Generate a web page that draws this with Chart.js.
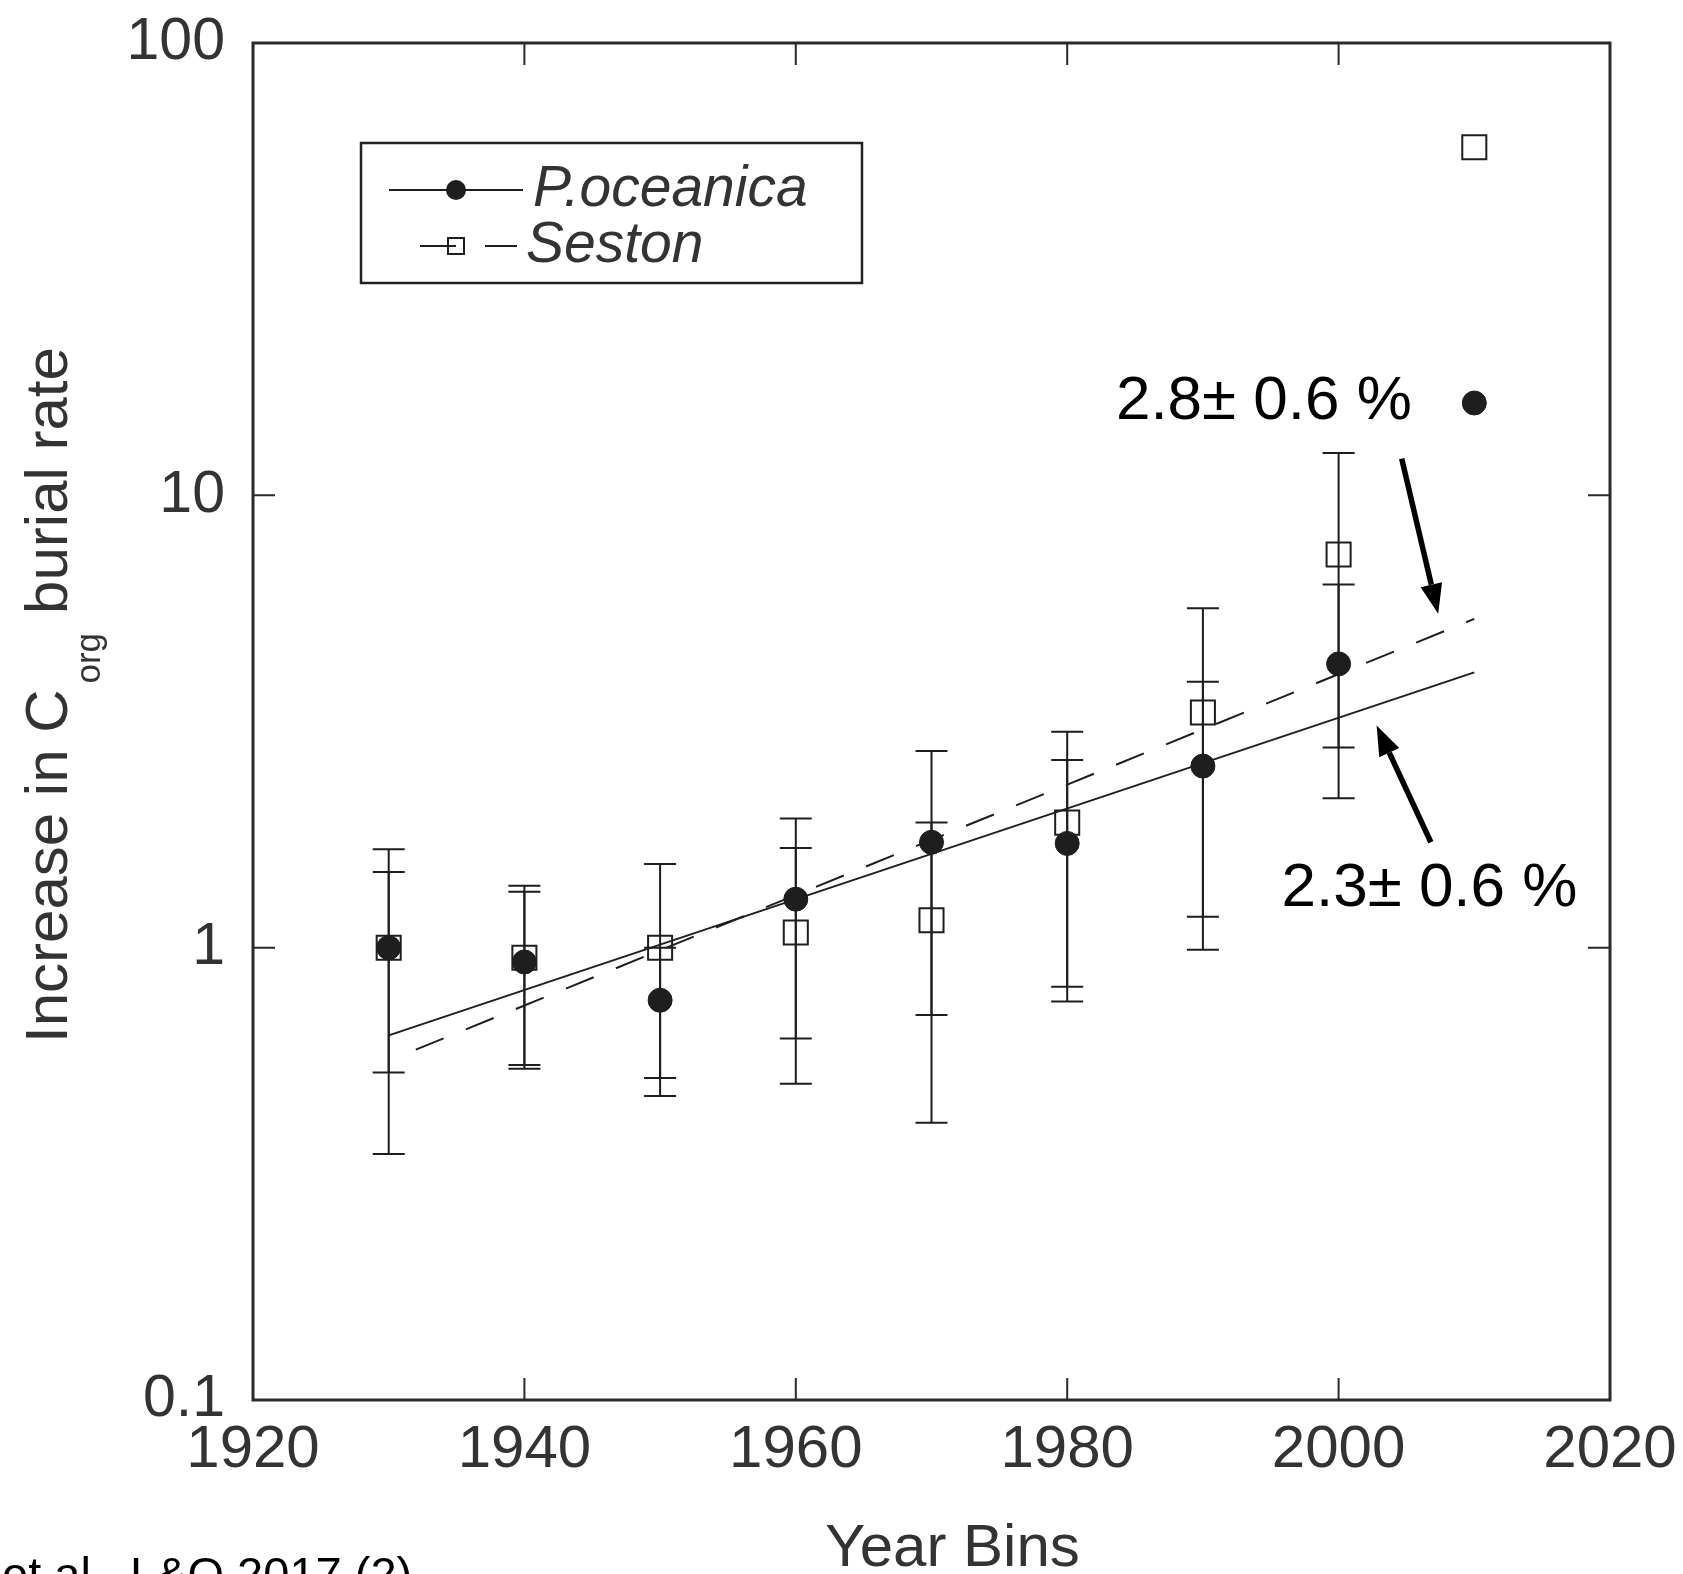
<!DOCTYPE html>
<html>
<head>
<meta charset="utf-8">
<script src="https://cdn.jsdelivr.net/npm/chart.js@4.4.0/dist/chart.umd.min.js"></script>
<style>
  html, body { margin: 0; padding: 0; background: #fff; }
  #wrap { width: 1683px; height: 1574px; position: relative; overflow: hidden; }
</style>
</head>
<body>
<div id="wrap"><canvas id="chart" width="1683" height="1574"></canvas></div>
<script>
// values
const yearBins = [1930, 1940, 1950, 1960, 1970, 1980, 1990, 2000, 2010];
const poceanicaValues = [1.0, 0.93, 0.765, 1.28, 1.71, 1.70, 2.52, 4.24, 16.0];
const poceanicaLow = [0.35, 0.54, 0.515, 0.63, 0.71, 0.82, 1.17, 2.14, null];
const poceanicaHigh = [1.65, 1.33, 1.0, 1.93, 2.72, 2.60, 3.87, 6.35, null];
const sestonValues = [1.0, 0.95, 1.0, 1.08, 1.15, 1.89, 3.31, 7.4, 58.8];
const sestonLow = [0.53, 0.55, 0.47, 0.50, 0.41, 0.76, 0.99, 2.77, null];
const sestonHigh = [1.47, 1.37, 1.53, 1.66, 1.89, 3.0, 5.63, 12.4, null];
const poceanicaFitYears = [1930, 2010];
const poceanicaFit = [0.64, 4.06];
const sestonFitYears = [1932, 2010];
const sestonFit = [0.595, 5.33];
const xTicks = [1920, 1940, 1960, 1980, 2000, 2020];
const yTicks = [0.1, 1, 10, 100];

const ink = '#1e1e1e';
const textFont = "'Liberation Sans', Arial, sans-serif";

// annotations placed in data space
const notes = [
  { text: '2.8\u00b1 0.6 %', year: 2005.4, value: 16.1 },
  { text: '2.3\u00b1 0.6 %', year: 2017.6, value: 1.35 }
];
const arrows = [
  { from: [2004.65, 12.05], to: [2007.34, 5.47] },
  { from: [2006.8, 1.71], to: [2002.8, 3.10] }
];

function toPoints(xs, ys) {
  return xs.map((x, i) => ({ x: x, y: ys[i] }));
}

const extras = {
  id: 'extras',
  beforeDatasetsDraw(chart) {
    const ctx = chart.ctx;
    const xs = chart.scales.x, ys = chart.scales.y;
    ctx.save();
    ctx.strokeStyle = ink;
    ctx.lineWidth = 2;
    // error bars
    [[poceanicaLow, poceanicaHigh], [sestonLow, sestonHigh]].forEach(([lo, hi]) => {
      yearBins.forEach((yr, i) => {
        if (lo[i] == null) return;
        const px = xs.getPixelForValue(yr);
        const p1 = ys.getPixelForValue(lo[i]);
        const p2 = ys.getPixelForValue(hi[i]);
        ctx.beginPath();
        ctx.moveTo(px, p1); ctx.lineTo(px, p2);
        ctx.moveTo(px - 16, p1); ctx.lineTo(px + 16, p1);
        ctx.moveTo(px - 16, p2); ctx.lineTo(px + 16, p2);
        ctx.stroke();
      });
    });
    ctx.restore();
  },
  afterDraw(chart) {
    const ctx = chart.ctx;
    const a = chart.chartArea;
    const xs = chart.scales.x, ys = chart.scales.y;
    ctx.save();

    // frame + inward ticks
    ctx.strokeStyle = '#2a2a2a';
    ctx.lineWidth = 3;
    ctx.strokeRect(a.left, a.top, a.right - a.left, a.bottom - a.top);
    ctx.lineWidth = 2;
    ctx.beginPath();
    xTicks.slice(1, -1).forEach(v => {
      const px = xs.getPixelForValue(v);
      ctx.moveTo(px, a.bottom); ctx.lineTo(px, a.bottom - 22);
      ctx.moveTo(px, a.top); ctx.lineTo(px, a.top + 22);
    });
    yTicks.slice(1, -1).forEach(v => {
      const py = ys.getPixelForValue(v);
      ctx.moveTo(a.left, py); ctx.lineTo(a.left + 22, py);
      ctx.moveTo(a.right, py); ctx.lineTo(a.right - 22, py);
    });
    ctx.stroke();

    // legend box
    const lx = a.left + 108, ly = a.top + 100;
    ctx.lineWidth = 2.5;
    ctx.strokeStyle = '#222';
    ctx.strokeRect(lx, ly, 501, 140);
    ctx.lineWidth = 2;
    ctx.strokeStyle = ink;
    ctx.beginPath();
    ctx.moveTo(lx + 28, ly + 47); ctx.lineTo(lx + 162, ly + 47);
    ctx.moveTo(lx + 59, ly + 103); ctx.lineTo(lx + 95, ly + 103);
    ctx.moveTo(lx + 124, ly + 103); ctx.lineTo(lx + 156, ly + 103);
    ctx.stroke();
    ctx.fillStyle = ink;
    ctx.beginPath();
    ctx.arc(lx + 95, ly + 47, 10, 0, Math.PI * 2);
    ctx.fill();
    ctx.strokeRect(lx + 87, ly + 95, 16, 16);
    ctx.fillStyle = '#333';
    ctx.font = 'italic 57px ' + textFont;
    ctx.textBaseline = 'middle';
    ctx.textAlign = 'left';
    ctx.fillText('P.oceanica', lx + 172, ly + 47);
    ctx.fillText('Seston', lx + 165, ly + 103);

    // rate annotations
    ctx.fillStyle = '#000';
    ctx.font = '62px ' + textFont;
    ctx.textAlign = 'right';
    notes.forEach(n => {
      ctx.fillText(n.text, xs.getPixelForValue(n.year), ys.getPixelForValue(n.value));
    });

    // arrows
    ctx.strokeStyle = '#000';
    ctx.fillStyle = '#000';
    ctx.lineWidth = 5.5;
    arrows.forEach(ar => {
      const x1 = xs.getPixelForValue(ar.from[0]), y1 = ys.getPixelForValue(ar.from[1]);
      const x2 = xs.getPixelForValue(ar.to[0]), y2 = ys.getPixelForValue(ar.to[1]);
      const ang = Math.atan2(y2 - y1, x2 - x1);
      const hl = 30, hw = 11;
      const bx = x2 - hl * Math.cos(ang), by = y2 - hl * Math.sin(ang);
      ctx.beginPath();
      ctx.moveTo(x1, y1); ctx.lineTo(bx, by);
      ctx.stroke();
      ctx.beginPath();
      ctx.moveTo(x2, y2);
      ctx.lineTo(bx + hw * Math.sin(ang), by - hw * Math.cos(ang));
      ctx.lineTo(bx - hw * Math.sin(ang), by + hw * Math.cos(ang));
      ctx.closePath();
      ctx.fill();
    });

    // x axis title
    ctx.fillStyle = '#333';
    ctx.font = '60px ' + textFont;
    ctx.textAlign = 'center';
    ctx.textBaseline = 'alphabetic';
    ctx.fillText('Year Bins', (a.left + a.right) / 2 + 21, 1566);

    // y axis title with subscript
    ctx.save();
    ctx.translate(67, 0);
    ctx.rotate(-Math.PI / 2);
    ctx.textAlign = 'left';
    ctx.font = '60px ' + textFont;
    let pos = -1043;
    const part1 = 'Increase in C';
    ctx.fillText(part1, pos, 0);
    pos += ctx.measureText(part1).width + 6;
    ctx.font = '35px ' + textFont;
    ctx.fillText('org', pos, 33);
    pos += ctx.measureText('org').width + 19;
    ctx.font = '60px ' + textFont;
    ctx.fillText('burial rate', pos, 0);
    ctx.restore();

    // source line at the bottom edge
    ctx.fillStyle = '#000';
    ctx.font = '47px ' + textFont;
    ctx.textAlign = 'left';
    ctx.fillText('et al., L&O 2017 (2)', 2, 1590);

    ctx.restore();
  }
};

new Chart(document.getElementById('chart'), {
  type: 'scatter',
  data: {
    datasets: [
      {
        label: 'P.oceanica',
        data: toPoints(yearBins, poceanicaValues),
        pointStyle: 'circle',
        pointRadius: 12,
        backgroundColor: ink,
        borderColor: ink,
        borderWidth: 1,
        order: 0
      },
      {
        label: 'Seston',
        data: toPoints(yearBins, sestonValues),
        pointStyle: 'rect',
        pointRadius: 17,
        backgroundColor: 'rgba(0,0,0,0)',
        borderColor: ink,
        borderWidth: 2,
        order: 1
      },
      {
        label: 'P.oceanica fit',
        type: 'line',
        data: toPoints(poceanicaFitYears, poceanicaFit),
        borderColor: ink,
        borderWidth: 2,
        pointRadius: 0,
        fill: false,
        order: 2
      },
      {
        label: 'Seston fit',
        type: 'line',
        data: toPoints(sestonFitYears, sestonFit),
        borderColor: ink,
        borderWidth: 2,
        borderDash: [30, 24],
        pointRadius: 0,
        fill: false,
        order: 3
      }
    ]
  },
  options: {
    responsive: false,
    animation: false,
    layout: { padding: 0 },
    plugins: { legend: { display: false }, tooltip: { enabled: false } },
    scales: {
      x: {
        type: 'linear',
        min: 1920,
        max: 2020,
        afterBuildTicks: s => { s.ticks = xTicks.map(v => ({ value: v })); },
        afterFit: s => { s.height = 174; s.paddingLeft = 0; s.paddingRight = 73; },
        grid: { display: false, drawTicks: false },
        border: { display: false },
        ticks: {
          padding: 14,
          color: '#333',
          font: { family: textFont, size: 60 },
          callback: v => String(v)
        }
      },
      y: {
        type: 'logarithmic',
        min: 0.1,
        max: 100,
        afterBuildTicks: s => { s.ticks = yTicks.map(v => ({ value: v })); },
        afterFit: s => { s.width = 253; s.paddingTop = 43; s.paddingBottom = 0; },
        grid: { display: false, drawTicks: false },
        border: { display: false },
        ticks: {
          padding: 28,
          color: '#333',
          font: { family: textFont, size: 59 },
          callback: v => String(v)
        }
      }
    }
  },
  plugins: [extras]
});
</script>
</body>
</html>
